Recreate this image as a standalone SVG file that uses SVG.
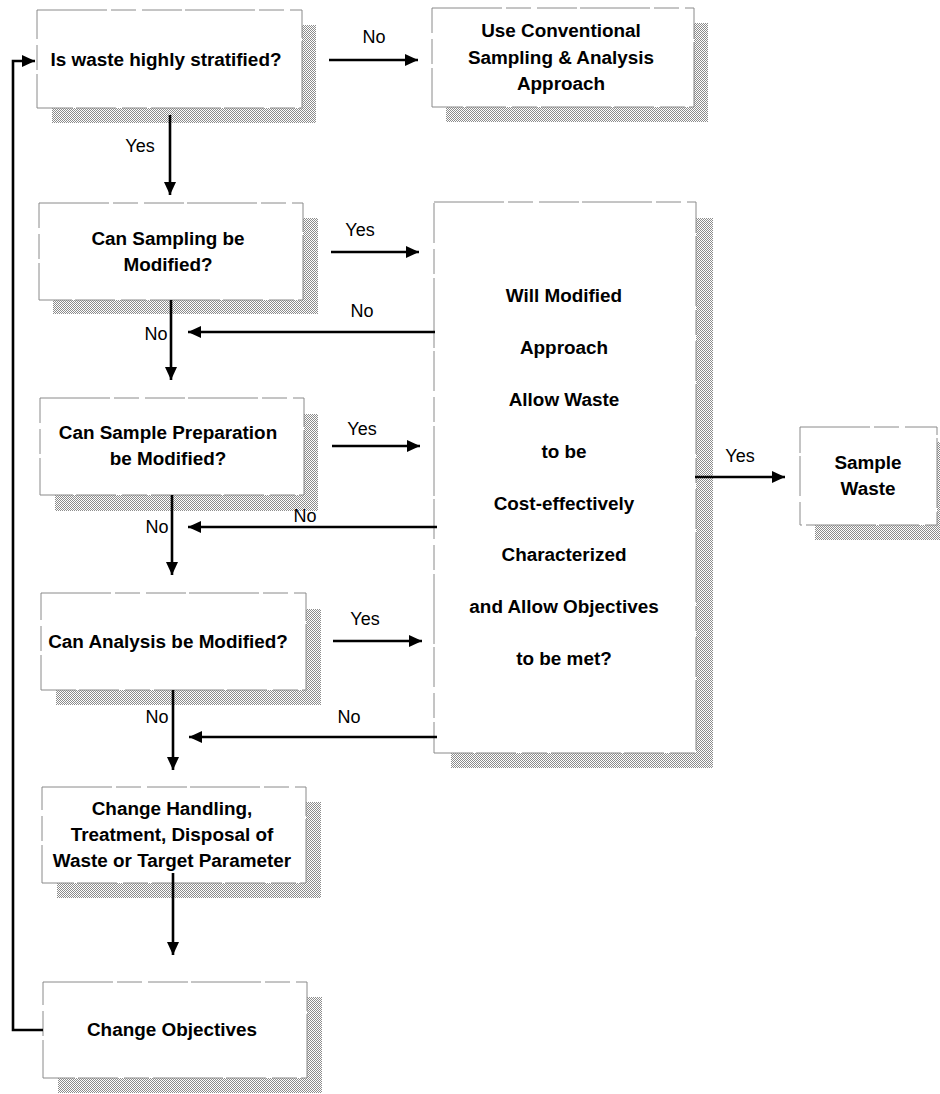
<svg xmlns="http://www.w3.org/2000/svg" width="940" height="1094" viewBox="0 0 940 1094">
  <defs>
    <pattern id="dots" width="2" height="2" patternUnits="userSpaceOnUse">
      <rect width="2" height="2" fill="#ffffff"/>
      <rect x="0" y="0" width="1" height="1" fill="#8c8c8c"/>
      <rect x="1" y="1" width="1" height="1" fill="#8c8c8c"/>
    </pattern>
    <marker id="ah" markerWidth="13" markerHeight="12" refX="13" refY="6" orient="auto" markerUnits="userSpaceOnUse">
      <path d="M0,0 L13,6 L0,12 z" fill="#000"/>
    </marker>
  </defs>
  <style>
    .shadow { fill: url(#dots); stroke: none; }
    .box { fill: #ffffff; stroke: #8a8a8a; stroke-width: 1; stroke-dasharray: 70 4 25 6 40 3; }
    .t { font-family: "Liberation Sans", Arial, sans-serif; font-weight: bold; font-size: 18.9px; fill: #000; text-anchor: middle; }
    .lbl { font-family: "Liberation Sans", Arial, sans-serif; font-size: 18px; fill: #000; text-anchor: middle; }
    .conn { stroke: #000; stroke-width: 2.6; fill: none; marker-end: url(#ah); }
  </style>
  <rect width="940" height="1094" fill="#ffffff"/>

  <g id="node-stratified">
    <rect class="shadow" x="52" y="25" width="264" height="98"/>
    <rect class="box" x="37" y="10" width="265" height="98"/>
    <text class="t" x="166" y="66">Is waste highly stratified?</text>
  </g>

  <g id="node-conventional">
    <rect class="shadow" x="446" y="23" width="262" height="99"/>
    <rect class="box" x="432" y="8" width="262" height="99"/>
    <text class="t" x="561" y="37">Use Conventional</text>
    <text class="t" x="561" y="63.5">Sampling &amp; Analysis</text>
    <text class="t" x="561" y="90">Approach</text>
  </g>

  <g id="node-sampling">
    <rect class="shadow" x="53" y="218" width="265" height="96"/>
    <rect class="box" x="39" y="203" width="264" height="97"/>
    <text class="t" x="168" y="245">Can Sampling be</text>
    <text class="t" x="168" y="271">Modified?</text>
  </g>

  <g id="node-will-modified">
    <rect class="shadow" x="451" y="218" width="262" height="550"/>
    <rect class="box" x="434" y="202" width="262" height="551"/>
    <text class="t" x="564" y="302">Will Modified</text>
    <text class="t" x="564" y="354">Approach</text>
    <text class="t" x="564" y="406">Allow Waste</text>
    <text class="t" x="564" y="458">to be</text>
    <text class="t" x="564" y="510">Cost-effectively</text>
    <text class="t" x="564" y="561">Characterized</text>
    <text class="t" x="564" y="613">and Allow Objectives</text>
    <text class="t" x="564" y="665">to be met?</text>
  </g>

  <g id="node-preparation">
    <rect class="shadow" x="55" y="414" width="263" height="97"/>
    <rect class="box" x="40" y="398" width="264" height="97"/>
    <text class="t" x="168" y="439">Can Sample Preparation</text>
    <text class="t" x="168" y="465">be Modified?</text>
  </g>

  <g id="node-analysis">
    <rect class="shadow" x="56" y="609" width="265" height="96"/>
    <rect class="box" x="41" y="593" width="265" height="97"/>
    <text class="t" x="168" y="648">Can Analysis be Modified?</text>
  </g>

  <g id="node-change-handling">
    <rect class="shadow" x="57" y="802" width="264" height="96"/>
    <rect class="box" x="42" y="787" width="264" height="96"/>
    <text class="t" x="172" y="815">Change Handling,</text>
    <text class="t" x="172" y="841">Treatment, Disposal of</text>
    <text class="t" x="172" y="867">Waste or Target Parameter</text>
  </g>

  <g id="node-change-objectives">
    <rect class="shadow" x="58" y="997" width="264" height="96"/>
    <rect class="box" x="43" y="982" width="264" height="96"/>
    <text class="t" x="172" y="1036">Change Objectives</text>
  </g>

  <g id="node-sample-waste">
    <rect class="shadow" x="815" y="442" width="125" height="98"/>
    <rect class="box" x="800" y="427" width="137" height="98"/>
    <text class="t" x="868" y="469">Sample</text>
    <text class="t" x="868" y="495">Waste</text>
  </g>

  <g id="connectors">
    <line class="conn" x1="329" y1="60" x2="418" y2="60"/>
    <line class="conn" x1="170" y1="115" x2="170" y2="195"/>
    <line class="conn" x1="331" y1="252" x2="419" y2="252"/>
    <line class="conn" x1="435" y1="332" x2="188" y2="332"/>
    <line class="conn" x1="171" y1="300" x2="171" y2="380"/>
    <line class="conn" x1="332" y1="446" x2="420" y2="446"/>
    <line class="conn" x1="437" y1="527" x2="188" y2="527"/>
    <line class="conn" x1="172" y1="495" x2="172" y2="575"/>
    <line class="conn" x1="333" y1="641" x2="422" y2="641"/>
    <line class="conn" x1="437" y1="737" x2="189" y2="737"/>
    <line class="conn" x1="173" y1="690" x2="173" y2="770"/>
    <line class="conn" x1="173" y1="873" x2="173" y2="955"/>
    <line class="conn" x1="695" y1="477" x2="785" y2="477"/>
    <polyline class="conn" points="43,1030 13,1030 13,61 35,61"/>

    <text class="lbl" x="374" y="43">No</text>
    <text class="lbl" x="140" y="152">Yes</text>
    <text class="lbl" x="360" y="236">Yes</text>
    <text class="lbl" x="362" y="317">No</text>
    <text class="lbl" x="156" y="340">No</text>
    <text class="lbl" x="362" y="435">Yes</text>
    <text class="lbl" x="305" y="522">No</text>
    <text class="lbl" x="157" y="533">No</text>
    <text class="lbl" x="365" y="625">Yes</text>
    <text class="lbl" x="349" y="723">No</text>
    <text class="lbl" x="157" y="723">No</text>
    <text class="lbl" x="740" y="462">Yes</text>
  </g>
</svg>
